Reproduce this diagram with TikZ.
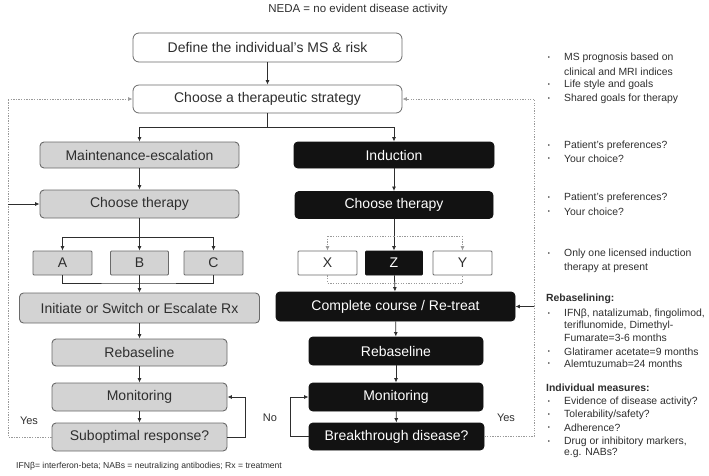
\documentclass[tikz,border=0pt]{standalone}
\usepackage{fontspec}
\setmainfont{Liberation Sans}
\usetikzlibrary{arrows.meta}
\definecolor{boxgray}{HTML}{D3D3D3}
\definecolor{edgegray}{HTML}{6A6A6A}
\definecolor{txt}{HTML}{2E2E2E}
\definecolor{dotgray}{HTML}{9A9A9A}
\definecolor{blk}{HTML}{121212}
\begin{document}
\begin{tikzpicture}[x=1pt,y=-1pt,
  box/.style={rounded corners=4pt, inner sep=0pt, font=\fontsize{14}{16}\selectfont, text=txt},
  gbox/.style={box, draw=edgegray, fill=boxgray, line width=0.9pt},
  bbox/.style={box, draw=blk, fill=blk, text=white, line width=0.9pt},
  wbox/.style={box, draw=edgegray, fill=white, line width=0.8pt},
  arr/.style={-{Latex[length=4.5pt,width=4pt]}, line width=0.8pt, draw=txt},
  ln/.style={line width=0.8pt, draw=txt},
  dotln/.style={dash pattern=on 1.3pt off 1.3pt, draw=dotgray, line width=0.8pt},
  dotarr/.style={dotln, -{Latex[length=4.5pt,width=4pt]}},
  side/.style={anchor=west, inner sep=0pt, font=\fontsize{10.4}{12}\selectfont, text=txt},
  bul/.style={anchor=center, inner sep=0pt, font=\fontsize{6}{7}\selectfont, text=txt},
  lab/.style={inner sep=0pt, font=\fontsize{11}{13}\selectfont, text=txt}
]
\useasboundingbox (0,0) rectangle (709,475);

% title
\node[inner sep=0pt, font=\fontsize{11.5}{13}\selectfont, text=txt] (neda) at (358,10) {NEDA = no evident disease activity};

% top boxes
\node[wbox, rounded corners=6pt, minimum width=269pt, minimum height=29pt] (def) at (267.5,47.5) {Define the individual's MS \& risk};
\node[wbox, rounded corners=6pt, minimum width=269pt, minimum height=28pt] (strat) at (267.5,99) {Choose a therapeutic strategy};

% left column
\node[gbox, minimum width=199pt, minimum height=26pt] (maint) at (139.5,155) {Maintenance-escalation};
\node[gbox, minimum width=199pt, minimum height=28pt] (ctL) at (139.5,204) {Choose therapy};
\node[gbox, rounded corners=1pt, minimum width=59pt, minimum height=24pt] (A) at (62.5,263) {A};
\node[gbox, rounded corners=1pt, minimum width=58pt, minimum height=24pt] (B) at (139.5,263) {B};
\node[gbox, rounded corners=1pt, minimum width=59pt, minimum height=24pt] (C) at (213.5,263) {C};
\node[gbox, minimum width=240pt, minimum height=30pt] (initL) at (139.5,308) {Initiate or Switch or Escalate Rx};
\node[gbox, minimum width=175pt, minimum height=27pt] (rebL) at (139.5,352.5) {Rebaseline};
\node[gbox, minimum width=175pt, minimum height=28pt] (monL) at (139.5,397) {Monitoring};
\node[gbox, minimum width=175pt, minimum height=28pt] (subL) at (139.5,437) {Suboptimal response?};

% right column
\node[bbox, minimum width=200pt, minimum height=26pt] (ind) at (394,155) {Induction};
\node[bbox, minimum width=198pt, minimum height=27pt] (ctR) at (394,205) {Choose therapy};
\node[wbox, rounded corners=1pt, minimum width=59pt, minimum height=24pt] (X) at (327.5,263) {X};
\node[bbox, rounded corners=1pt, minimum width=57pt, minimum height=24pt] (Z) at (394,263) {Z};
\node[wbox, rounded corners=1pt, minimum width=59pt, minimum height=24pt] (Y) at (462.5,263) {Y};
\node[bbox, minimum width=239pt, minimum height=29pt] (comp) at (395.5,306.5) {Complete course / Re-treat};
\node[bbox, minimum width=174pt, minimum height=28pt] (rebR) at (396,351) {Rebaseline};
\node[bbox, minimum width=174pt, minimum height=28pt] (monR) at (396,397) {Monitoring};
\node[bbox, minimum width=175pt, minimum height=27pt] (brk) at (396.5,436.5) {Breakthrough disease?};

% labels
\node[lab] (yesL) at (29,421) {Yes};
\node[lab] (noR) at (270,418) {No};
\node[lab] (yesR) at (506,418) {Yes};

% helper coordinates
\coordinate (split) at (267.5,127);
\coordinate (lsplit) at (139.5,237);
\coordinate (ljoin) at (139.5,283);
\coordinate (rsplit) at (394,236);
\coordinate (rjoin) at (394,283);
\coordinate (lline) at (8,437);
\coordinate (rline) at (534,436.5);

% top connectors
\draw[arr] (def) -- (strat);
\draw[ln] (strat.south) -- (split);
\draw[arr] (split) -| (maint.north);
\draw[arr] (split) -| (ind.north);

% left connectors
\draw[arr] (maint) -- (ctL);
\draw[arr] (ctL) -- (B);
\draw[arr] (lsplit) -| (A.north);
\draw[arr] (lsplit) -| (C.north);
\draw[ln] (A.south) |- (ljoin) -| (C.south);
\draw[arr] (B) -- (initL);
\draw[arr] (initL) -- (rebL);
\draw[arr] (rebL) -- (monL);
\draw[arr] (monL) -- (subL);
\draw[arr] (subL.east) -- ++(18,0) |- (monL.east);

% left feedback
\draw[dotln] (subL.west) -- (lline) -- (lline |- strat.west);
\draw[dotarr] (lline |- strat.west) -- (strat.west);
\draw[arr] (lline |- ctL.west) -- (ctL.west);

% right connectors
\draw[arr] (ind) -- (ctR);
\draw[arr] (ctR) -- (Z);
\draw[dotln] (rsplit) -- (X.north |- rsplit);
\draw[dotln] (rsplit) -- (Y.north |- rsplit);
\draw[dotarr] (X.north |- rsplit) -- (X.north);
\draw[dotarr] (Y.north |- rsplit) -- (Y.north);
\draw[dotln] (X.south) |- (rjoin) -| (Y.south);
\draw[arr] (Z) -- (comp);
\draw[arr] (comp) -- (rebR);
\draw[arr] (rebR) -- (monR);
\draw[arr] (monR) -- (brk);
\draw[arr] (brk.west) -- ++(-18,0) |- (monR.west);

% right feedback
\draw[dotln] (brk.east) -- (rline) -- (rline |- strat.east);
\draw[dotarr] (rline |- strat.east) -- (strat.east);
\draw[arr] (rline |- comp.east) -- (comp.east);

% footer
\node[anchor=west, inner sep=0pt, font=\fontsize{8.6}{10}\selectfont, text=txt] (foot) at (16,466) {IFNβ= interferon-beta; NABs = neutralizing antibodies; Rx = treatment};

% side notes
\node[bul] (b1) at (549,58) {•};
\node[side] (s1) at (564,58) {MS prognosis based on};
\node[side] (s2) at (564,72) {clinical and MRI indices};
\node[bul] (b3) at (549,85) {•};
\node[side] (s3) at (564,85) {Life style and goals};
\node[bul] (b4) at (549,99) {•};
\node[side] (s4) at (564,99) {Shared goals for therapy};

\node[bul] (b5) at (549,146) {•};
\node[side] (s5) at (564,146) {Patient's preferences?};
\node[bul] (b6) at (549,159) {•};
\node[side] (s6) at (564,159) {Your choice?};

\node[bul] (b7) at (549,198) {•};
\node[side] (s7) at (564,198) {Patient's preferences?};
\node[bul] (b8) at (549,212) {•};
\node[side] (s8) at (564,212) {Your choice?};

\node[bul] (b9) at (549,254) {•};
\node[side] (s9) at (564,254) {Only one licensed induction};
\node[side] (s10) at (564,268) {therapy at present};

\node[side, font=\fontsize{10.4}{12}\selectfont\bfseries] (h1) at (546,299) {Rebaselining:};
\node[bul] (b11) at (549,314) {•};
\node[side] (s11) at (564,314) {IFNβ, natalizumab, fingolimod,};
\node[side] (s12) at (564,326) {teriflunomide, Dimethyl-};
\node[side] (s13) at (564,338) {Fumarate=3-6 months};
\node[bul] (b14) at (549,352) {•};
\node[side] (s14) at (564,352) {Glatiramer acetate=9 months};
\node[bul] (b15) at (549,364) {•};
\node[side] (s15) at (564,364) {Alemtuzumab=24 months};

\node[side, font=\fontsize{10.4}{12}\selectfont\bfseries] (h2) at (546,388) {Individual measures:};
\node[bul] (b16) at (549,402) {•};
\node[side] (s16) at (564,402) {Evidence of disease activity?};
\node[bul] (b17) at (549,415) {•};
\node[side] (s17) at (564,415) {Tolerability/safety?};
\node[bul] (b18) at (549,428) {•};
\node[side] (s18) at (564,428) {Adherence?};
\node[bul] (b19) at (549,442) {•};
\node[side] (s19) at (564,442) {Drug or inhibitory markers,};
\node[side] (s20) at (564,453) {e.g. NABs?};
\end{tikzpicture}
\end{document}
